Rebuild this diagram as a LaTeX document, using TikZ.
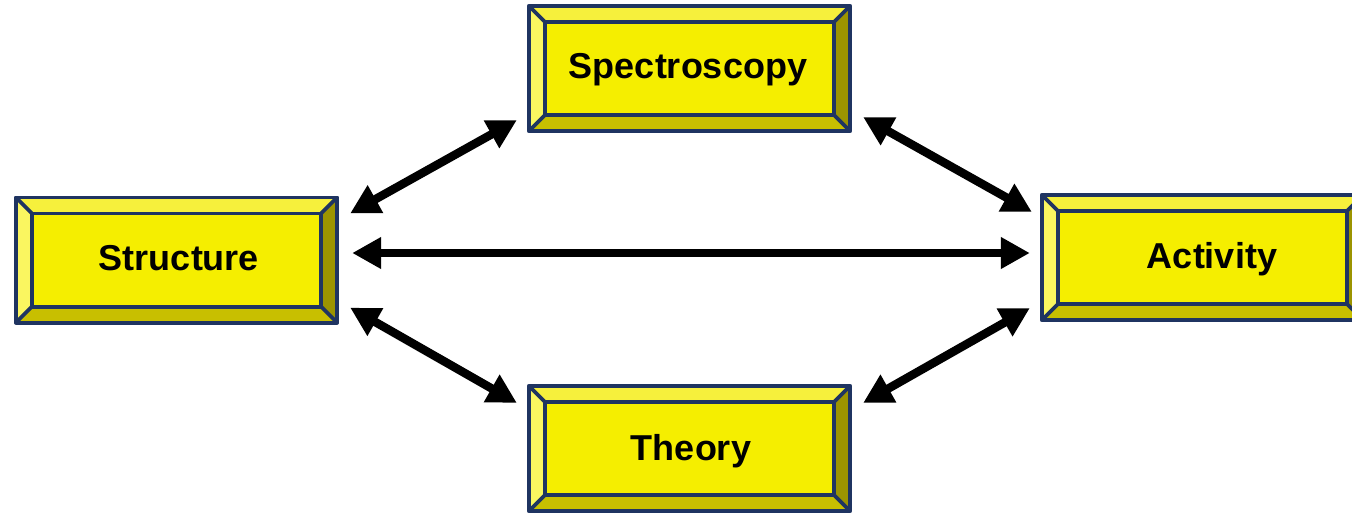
\documentclass[tikz,border=0pt]{standalone}
\usepackage{fontspec}
\setmainfont{Liberation Sans}
\usetikzlibrary{calc,arrows.meta}
\definecolor{facec}{HTML}{F5EE00}
\definecolor{topc}{HTML}{F6F03C}
\definecolor{leftc}{HTML}{FAF660}
\definecolor{botc}{HTML}{C8BF00}
\definecolor{rightc}{HTML}{9C9400}
\definecolor{edgec}{HTML}{1F3461}
\tikzset{
  boxshape/.style={rectangle, minimum width=321pt, minimum height=125pt, inner sep=0pt, fill=facec},
  bevelline/.style={draw=edgec, line width=3.6pt, line join=round},
  label/.style={font=\bfseries\fontsize{36}{40}\selectfont, anchor=base, inner sep=0pt},
  link/.style={line width=8.5pt, {Triangle[length=29pt,width=30pt]}-{Triangle[length=29pt,width=30pt]}},
}
\newcommand{\bevelbox}[1]{%
  \fill[topc] (#1.north west) -- (#1.north east) -- ($(#1.north east)+(-16,16)$) -- ($(#1.north west)+(16,16)$) -- cycle;
  \fill[leftc] (#1.north west) -- ($(#1.north west)+(16,16)$) -- ($(#1.south west)+(16,-16)$) -- (#1.south west) -- cycle;
  \fill[botc] (#1.south west) -- ($(#1.south west)+(16,-16)$) -- ($(#1.south east)+(-16,-16)$) -- (#1.south east) -- cycle;
  \fill[rightc] (#1.north east) -- (#1.south east) -- ($(#1.south east)+(-16,-16)$) -- ($(#1.north east)+(-16,16)$) -- cycle;
  \draw[bevelline] (#1.north west) rectangle (#1.south east);
  \draw[bevelline] ($(#1.north west)+(16,16)$) rectangle ($(#1.south east)+(-16,-16)$);
  \draw[bevelline] (#1.north west) -- ($(#1.north west)+(16,16)$);
  \draw[bevelline] (#1.north east) -- ($(#1.north east)+(-16,16)$);
  \draw[bevelline] (#1.south west) -- ($(#1.south west)+(16,-16)$);
  \draw[bevelline] (#1.south east) -- ($(#1.south east)+(-16,-16)$);
}
\begin{document}
\begin{tikzpicture}[x=1pt,y=-1pt]
  \useasboundingbox[fill=white] (0,0) rectangle (1352,512);
  \node[boxshape] (spec) at (689.5,68.5) {};
  \node[boxshape] (struct) at (176.5,260) {};
  \node[boxshape] (act) at (1202.5,257.5) {};
  \node[boxshape] (theo) at (689.5,448.5) {};
  \bevelbox{spec}
  \bevelbox{struct}
  \bevelbox{act}
  \bevelbox{theo}
  \node[label] (spect) at (688,78) {Spectroscopy};
  \node[label] (structt) at (179,270) {Structure};
  \node[label] (actt) at (1212,268) {Activity};
  \node[label] (theot) at (691,460) {Theory};
  \draw[link] ($(struct.north east)+(13,16)$) -- ($(spec.south west)+(-12,-11)$);
  \draw[link] ($(spec.south east)+(13,-14)$) -- ($(act.north west)+(-10,17)$);
  \draw[link] ($(struct.east)+(15,-7)$) -- ($(act.west)+(-12,-4.5)$);
  \draw[link] ($(struct.south east)+(13,-15)$) -- ($(theo.north west)+(-12,17)$);
  \draw[link] ($(theo.north east)+(13,17)$) -- ($(act.south west)+(-12,-12)$);
\end{tikzpicture}
\end{document}
